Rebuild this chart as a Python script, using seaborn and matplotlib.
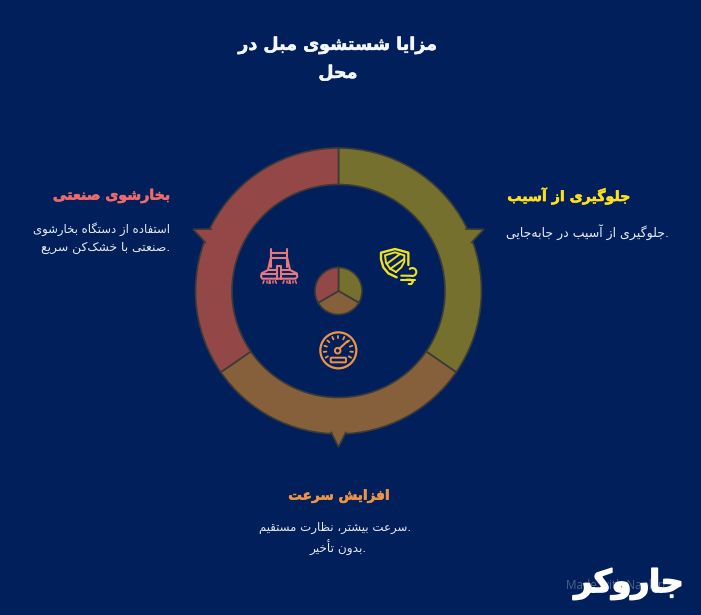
import numpy as np
import matplotlib
matplotlib.use("Agg")
import matplotlib.pyplot as plt
import matplotlib.patheffects as pe
from matplotlib.patches import Polygon, Circle, FancyBboxPatch
import seaborn as sns

# ---------- data ----------
title_lines = ["مزایا شستشوی مبل در", "محل"]
categories = ["جلوگیری از آسیب", "افزایش سرعت", "بخارشوی صنعتی"]
descriptions = [
    [".جلوگیری از آسیب در جابه‌جایی"],
    [".سرعت بیشتر، نظارت مستقیم", ".بدون تأخیر"],
    ["استفاده از دستگاه بخارشوی", ".صنعتی با خشک‌کن سریع"],
]
ring_shares = [124.6, 110.8, 124.6]
hub_shares = [1, 1, 1]
ring_colors = ["#76702F", "#85603B", "#934746"]
text_colors = ["#FFE01B", "#EE9447", "#EE6B6B"]
logo_text = "جاروکر"
watermark = "Made with Napkin"

BG = "#001F5B"
EDGE = "#3A3A38"
W, H = 701, 615

# ---------- tiny Arabic/Persian shaper (matplotlib has no text shaping) ----------
FORMS = {  # isolated, final, initial, medial
    "ا": "ﺍﺎ", "آ": "ﺁﺂ", "أ": "ﺃﺄ", "د": "ﺩﺪ", "ذ": "ﺫﺬ", "ر": "ﺭﺮ", "ز": "ﺯﺰ", "ژ": "ﮊﮋ", "و": "ﻭﻮ",
    "ب": "ﺏﺐﺑﺒ", "پ": "ﭖﭗﭘﭙ", "ت": "ﺕﺖﺗﺘ", "ث": "ﺙﺚﺛﺜ", "ج": "ﺝﺞﺟﺠ", "چ": "ﭺﭻﭼﭽ", "ح": "ﺡﺢﺣﺤ",
    "خ": "ﺥﺦﺧﺨ", "س": "ﺱﺲﺳﺴ", "ش": "ﺵﺶﺷﺸ", "ص": "ﺹﺺﺻﺼ", "ض": "ﺽﺾﺿﻀ", "ط": "ﻁﻂﻃﻄ", "ظ": "ﻅﻆﻇﻈ",
    "ع": "ﻉﻊﻋﻌ", "غ": "ﻍﻎﻏﻐ", "ف": "ﻑﻒﻓﻔ", "ق": "ﻕﻖﻗﻘ", "ک": "ﮎﮏﮐﮑ", "گ": "ﮒﮓﮔﮕ", "ل": "ﻝﻞﻟﻠ",
    "م": "ﻡﻢﻣﻤ", "ن": "ﻥﻦﻧﻨ", "ه": "ﻩﻪﻫﻬ", "ی": "ﯼﯽﯾﯿ",
}


def shape(s):
    chars = list(s)
    out = []
    n = len(chars)
    for i, c in enumerate(chars):
        if c == "\u200c":
            continue
        if c not in FORMS:
            out.append(c)
            continue
        prev_join = i > 0 and chars[i - 1] in FORMS and len(FORMS[chars[i - 1]]) == 4
        next_join = i < n - 1 and chars[i + 1] in FORMS and len(FORMS[c]) == 4
        f = FORMS[c]
        if prev_join and next_join:
            out.append(f[3])
        elif next_join:
            out.append(f[2])
        elif prev_join:
            out.append(f[1])
        else:
            out.append(f[0])
    return "".join(reversed(out))


# ---------- figure ----------
sns.set_theme(style="white", rc={"figure.facecolor": BG, "axes.facecolor": BG})
plt.rcParams["font.family"] = ["DejaVu Sans"]
fig = plt.figure(figsize=(W / 100, H / 100), dpi=100, facecolor=BG)
ax = fig.add_axes([0, 0, 1, 1])


def Y(py):
    return H - py


cx, cy = 338.5, 291
R_OUT, R_IN = 143, 106.5
tip_deg = [23, 270, 157]
tip_r = [158, 156, 158]
EW = 1.2
wedge = dict(edgecolor=EDGE, linewidth=EW, joinstyle="miter")


def polar(ang, rad):
    return cx + rad * np.cos(np.radians(ang)), Y(cy) + rad * np.sin(np.radians(ang))


ax.pie(ring_shares, colors=ring_colors, startangle=90, counterclock=False, center=(cx, Y(cy)),
       radius=R_OUT, frame=True, wedgeprops=dict(width=R_OUT - R_IN, zorder=2, **wedge))
ax.pie(hub_shares, colors=ring_colors, startangle=90, counterclock=False, center=(cx, Y(cy)),
       radius=23.5, frame=True, wedgeprops=dict(zorder=2, **wedge))

# arrow tips merged into the ring
for a, r, col in zip(tip_deg, tip_r, ring_colors):
    p0, p1, p2 = polar(a - 3, R_OUT - 1.5), polar(a, r), polar(a + 3, R_OUT - 1.5)
    ax.add_patch(Polygon([p0, p1, p2], closed=True, facecolor=col, edgecolor="none", zorder=3))
    ax.plot([p0[0], p1[0], p2[0]], [p0[1], p1[1], p2[1]], color=EDGE, lw=EW, zorder=3,
            solid_joinstyle="miter")

ax.set_xlim(0, W)
ax.set_ylim(0, H)
ax.set_aspect("auto")
ax.axis("off")


# ---------- text ----------
def put(x, py, s, size, color, ha="center", bold=False, **kw):
    return ax.text(x, Y(py), shape(s), fontsize=size, color=color, ha=ha, va="center",
                   fontweight="bold" if bold else "normal", family="DejaVu Sans", zorder=5, **kw)


def heavy(c, w=0.4):
    return [pe.withStroke(linewidth=w, foreground=c)]


put(338, 45, title_lines[0], 12.6, "#F4F6FA", bold=True, path_effects=heavy("#F4F6FA"))
put(338, 73, title_lines[1], 12.6, "#F4F6FA", bold=True, path_effects=heavy("#F4F6FA"))

put(630, 196, categories[0], 10.2, text_colors[0], ha="right", bold=True, path_effects=heavy(text_colors[0]))
put(170, 196, categories[2], 10.2, text_colors[2], ha="right", bold=True, path_effects=heavy(text_colors[2]))
put(339, 496, categories[1], 9.8, text_colors[1], bold=True, path_effects=heavy(text_colors[1]))

DESC = "#E9EDF5"
put(669, 232, descriptions[0][0], 9, DESC, ha="right")
put(170, 229, descriptions[2][0], 8.4, DESC, ha="right")
put(170, 248, descriptions[2][1], 8.9, DESC, ha="right")
put(411, 528, descriptions[1][0], 8.5, DESC, ha="right")
put(367, 548, descriptions[1][1], 8.7, DESC, ha="right")

ax.text(566, Y(586), watermark, fontsize=8.5, color="#FFFFFF", alpha=0.3, ha="left", va="center",
        family="Open Sans", zorder=5)
put(629, 584, logo_text, 22.5, "#FFFFFF", bold=True,
    path_effects=[pe.withStroke(linewidth=1.2, foreground="#FFFFFF")])


# ---------- icons (drawn in the zoomed-crop coordinate frame of the ring) ----------
def zp(zx, zy):
    return 180 + zx / 3, Y(130 + zy / 3)


def line(points, color, lw=1.5):
    xs, ys = zip(*[zp(*p) for p in points])
    ax.plot(xs, ys, color=color, lw=lw, solid_capstyle="round", solid_joinstyle="round", zorder=4)


RED, YEL, ORG = "#E8787C", "#F2E21E", "#EE9447"
# machine
line([(272, 410), (272, 358)], RED)
line([(322, 410), (322, 358)], RED)
line([(272, 368), (322, 368)], RED)
line([(272, 385), (322, 385)], RED)
line([(272, 385), (264, 420), (245, 430), (243, 440), (247, 446), (347, 446), (352, 440), (350, 430), (330, 420), (322, 385)], RED)
line([(264, 420), (290, 420)], RED)
line([(304, 420), (330, 420)], RED)
line([(290, 446), (290, 408), (304, 408), (304, 446)], RED)
line([(245, 431), (290, 431)], RED)
line([(304, 431), (350, 431)], RED)
for zx in (252, 270, 312, 330):
    line([(zx, 452), (zx - 3, 460)], RED, 1.1)
    line([(zx + 8, 452), (zx + 8, 460)], RED, 1.1)
    line([(zx + 16, 452), (zx + 19, 460)], RED, 1.1)

# shield + wind
line([(650, 442), (625, 430), (610, 412), (603, 388), (603, 368), (645, 357), (685, 368), (685, 405)], YEL, 1.7)
line([(648, 426), (630, 416), (618, 398), (615, 376), (645, 367), (673, 376), (673, 395), (664, 412), (648, 426)], YEL, 1.4)
line([(620, 402), (660, 372)], YEL, 1.4)
line([(630, 417), (671, 388)], YEL, 1.4)
th = np.radians(np.arange(-130, 111, 20))
line([(697 + 12 * np.cos(t), 426 + 12 * np.sin(t)) for t in th] + [(664, 437)], YEL, 1.5)
line([(662, 449), (705, 449)], YEL, 1.5)
line([(680, 449), (692, 449), (699, 455), (694, 462), (686, 462)], YEL, 1.5)

# gauge
ax.add_patch(Circle(zp(475, 661), 18, fill=False, edgecolor=ORG, lw=1.6, zorder=4))
for d in np.arange(-30, 211, 24):
    t = np.radians(d)
    line([(475 + 36 * np.cos(t), 661 - 36 * np.sin(t)), (475 + 44 * np.cos(t), 661 - 44 * np.sin(t))], ORG, 1.3)
ax.add_patch(Circle(zp(473, 662), 2.8, fill=False, edgecolor=ORG, lw=1.4, zorder=4))
line([(478, 656), (503, 633)], ORG, 1.5)
x0, y0 = zp(452, 697)
ax.add_patch(FancyBboxPatch((x0, y0), 46 / 3, 14 / 3, boxstyle="round,pad=0,rounding_size=1", fill=False,
                            edgecolor=ORG, lw=1.4, zorder=4))

fig.savefig("out.png", dpi=100, facecolor=BG)
